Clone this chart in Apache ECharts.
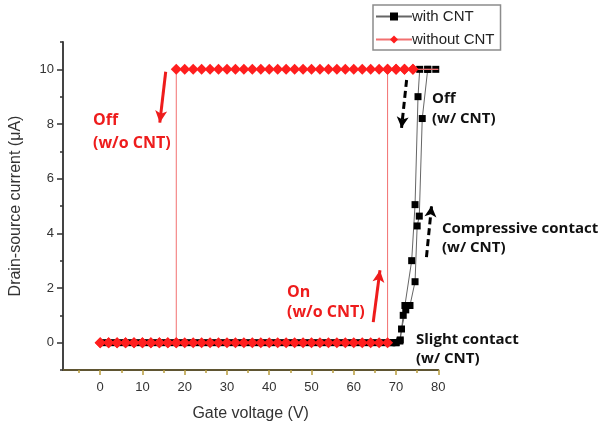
<!DOCTYPE html>
<html>
<head>
<meta charset="utf-8">
<script src="https://cdn.jsdelivr.net/npm/echarts@6/dist/echarts.min.js"></script>
<style>html,body{margin:0;padding:0;background:#fff}#c{width:603px;height:427px}</style>
</head>
<body>
<div id="c"></div>
<script>
// ---- data ----
const redV = [0,2,4,6,8,10,12,14,16,18,20,22,24,26,28,30,32,34,36,38,40,42,44,46,48,50,52,54,56,58,60,62,64,66,68,
  68,70,72,74,76,78,80,
  78,76,74,72,70,68,66,64,62,60,58,56,54,52,50,48,46,44,42,40,38,36,34,32,30,28,26,24,22,20,18,
  18,16,14,12,10,8,6,4,2,0];
const redI = [0,0,0,0,0,0,0,0,0,0,0,0,0,0,0,0,0,0,0,0,0,0,0,0,0,0,0,0,0,0,0,0,0,0,0,
  10,10,10,10,10,10,10,
  10,10,10,10,10,10,10,10,10,10,10,10,10,10,10,10,10,10,10,10,10,10,10,10,10,10,10,10,10,10,10,
  0,0,0,0,0,0,0,0,0,0];
const blackV = [1,3,5,7,9,11,13,15,17,19,21,23,25,27,29,31,33,35,37,39,41,43,45,47,49,51,53,55,57,59,61,63,65,67,69,
  70,71,71.7,72.1,73.7,74.5,75.2,75.6,77.5,79.4,
  77.5,76.2,75.5,75.0,74.5,73.3,72.3,71.3,70.9,70,69];
const blackI = [0,0,0,0,0,0,0,0,0,0,0,0,0,0,0,0,0,0,0,0,0,0,0,0,0,0,0,0,0,0,0,0,0,0,0,
  0,0.1,1.0,1.36,3.0,5.05,9.0,10,10,10,
  10,8.2,4.63,4.27,2.23,1.36,1.2,0.5,0.06,0,0];
const xMajor = [0,10,20,30,40,50,60,70,80];
const xMinor = [-5,5,15,25,35,45,55,65,75];
const yMajor = [0,2,4,6,8,10];
const yMinor = [-1,1,3,5,7,9,11];
const seriesNames = ['with CNT','without CNT'];

const redData = redV.map((v,i)=>[v,redI[i]]);
const blackData = blackV.map((v,i)=>[v,blackI[i]]);

const chart = echarts.init(document.getElementById('c'));
const font = 'Liberation Sans';
const annFont = 'Open Sans';
const xBase = {type:'value', min:-8.8, max:80, splitLine:{show:false}, gridIndex:0};
const yBase = {type:'value', min:-1, max:11, splitLine:{show:false}, gridIndex:0};
chart.setOption({
  animation:false,
  backgroundColor:'#fff',
  grid:{left:62, top:42, right:164.7, bottom:55.3, containLabel:false},
  legend:{
    orient:'vertical', left:373, top:5, data:seriesNames,
    itemWidth:36, itemHeight:10, itemGap:8,
    padding:[4,6,3,2],
    borderColor:'#8c8c8c', borderWidth:1.5,
    textStyle:{fontFamily:font, fontSize:15, color:'#222', padding:[0,0,0,-5]}
  },
  xAxis:[
    Object.assign({}, xBase, {
      name:'Gate voltage (V)', nameLocation:'middle', nameGap:36,
      nameTextStyle:{fontFamily:font, fontSize:16, color:'#333'},
      axisLine:{show:true, onZero:false, lineStyle:{color:'#5f5532', width:2}},
      axisTick:{show:true, customValues:xMajor, length:5, lineStyle:{color:'#b89c3c', width:1.5}},
      axisLabel:{customValues:xMajor, fontFamily:font, fontSize:13, color:'#333', margin:11}
    }),
    Object.assign({}, xBase, {
      position:'bottom',
      axisLine:{show:false, onZero:false},
      axisTick:{show:true, customValues:xMinor, length:3, lineStyle:{color:'#b89c3c', width:1.5}},
      axisLabel:{show:false}
    })
  ],
  yAxis:[
    Object.assign({}, yBase, {
      name:'Drain-source current (\u03bcA)', nameLocation:'middle', nameGap:39,
      nameTextStyle:{fontFamily:font, fontSize:16, color:'#333'},
      axisLine:{show:true, onZero:false, lineStyle:{color:'#444', width:2}},
      axisTick:{show:true, customValues:yMajor, length:6, lineStyle:{color:'#333', width:1.5}},
      axisLabel:{customValues:yMajor, fontFamily:font, fontSize:13, color:'#333', margin:9}
    }),
    Object.assign({}, yBase, {
      position:'left',
      axisLine:{show:false, onZero:false},
      axisTick:{show:true, customValues:yMinor, length:3, lineStyle:{color:'#333', width:1.5}},
      axisLabel:{show:false}
    })
  ],
  series:[
    {
      name:'with CNT', type:'line', data:blackData, xAxisIndex:0, yAxisIndex:0,
      symbol:'rect', symbolSize:7,
      itemStyle:{color:'#000'},
      lineStyle:{color:'#666', width:1},
      z:2,
      markLine:{
        silent:true, symbol:['none','arrow'], symbolSize:[9,11],
        label:{show:false},
        lineStyle:{color:'#000', width:3, type:[7,4]},
        data:[
          [{coord:[72.5,9.61]},{coord:[71.3,7.86]}],
          [{coord:[77.2,3.13]},{coord:[78.4,5.0]}]
        ]
      }
    },
    {
      name:'without CNT', type:'line', data:redData, xAxisIndex:0, yAxisIndex:0,
      symbol:'diamond',
      // markers beyond 75 V lie under the "with CNT" squares in the original
      symbolSize:(val)=> val[0] > 75 ? 0 : 11,
      itemStyle:{color:'#ff1e1e'},
      lineStyle:{color:'#f27070', width:1},
      z:3,
      markLine:{
        silent:true, symbol:['none','arrow'], symbolSize:[9,12],
        label:{show:false},
        lineStyle:{color:'#ee1c1c', width:3, type:'solid'},
        data:[
          [{coord:[15.5,9.91]},{coord:[14.1,8.05]}],
          [{coord:[64.6,0.75]},{coord:[66.2,2.65]}]
        ]
      }
    }
  ],
  graphic:[
    {type:'text', left:93, top:109, style:{text:'Off\n(w/o CNT)', fill:'#ee1c1c', font:'bold 16px "'+annFont+'"', lineHeight:23}},
    {type:'text', left:287, top:282, style:{text:'On\n(w/o CNT)', fill:'#ee1c1c', font:'bold 16px "'+annFont+'"', lineHeight:20}},
    {type:'text', left:432, top:89, style:{text:'Off\n(w/ CNT)', fill:'#111', font:'bold 15px "'+annFont+'"', lineHeight:20}},
    {type:'text', left:442, top:219, style:{text:'Compressive contact\n(w/ CNT)', fill:'#111', font:'bold 15px "'+annFont+'"', lineHeight:19}},
    {type:'text', left:416, top:330, style:{text:'Slight contact\n(w/ CNT)', fill:'#111', font:'bold 15px "'+annFont+'"', lineHeight:19}}
  ]
});
</script>
</body>
</html>
